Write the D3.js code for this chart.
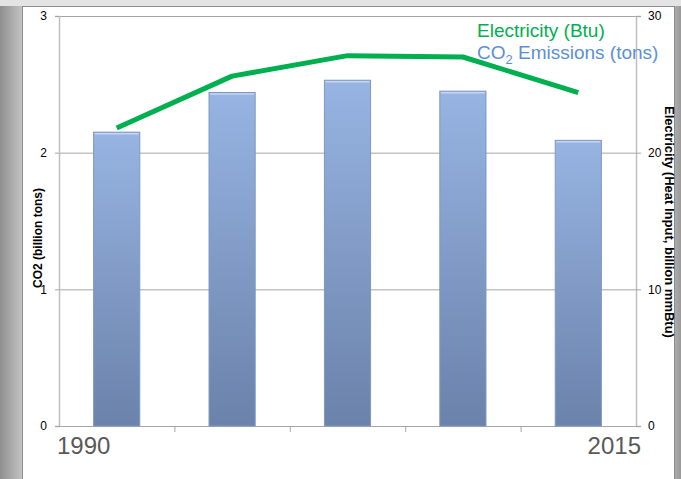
<!DOCTYPE html>
<html>
<head>
<meta charset="utf-8">
<script src="https://cdn.jsdelivr.net/npm/d3@7"></script>
<style>
  body { margin: 0; background: #e9e9e9; }
  svg { display: block; font-family: "Liberation Sans", Arial, sans-serif; }
</style>
</head>
<body>
<svg id="chart"></svg>
<script>
const years = ["1990", "1995", "2000", "2005", "2010"];
const co2 = [2.15, 2.44, 2.53, 2.45, 2.09];          // billion tons
const electricity = [21.8, 25.6, 27.1, 27.0, 24.4];  // billion mmBtu
const leftTicks = [0, 1, 2, 3];
const rightTicks = [0, 10, 20, 30];
const endLabels = ["1990", "2015"];

const W = 681, H = 479;
const margin = { top: 16, right: 45, bottom: 53, left: 59 };
const innerW = W - margin.left - margin.right;
const innerH = H - margin.top - margin.bottom;

const svg = d3.select("#chart").attr("width", W).attr("height", H);
const defs = svg.append("defs");

// slide-like background
const bg = defs.append("linearGradient").attr("id", "bgGrad");
bg.append("stop").attr("offset", "0%").attr("stop-color", "#8f8f8f");
bg.append("stop").attr("offset", "3.3%").attr("stop-color", "#c4c4c4");
bg.append("stop").attr("offset", "96%").attr("stop-color", "#e6e6e6");
bg.append("stop").attr("offset", "100%").attr("stop-color", "#9a9a9a");
svg.append("rect").attr("width", W).attr("height", H).attr("fill", "url(#bgGrad)");
svg.append("rect").attr("x", 0).attr("y", 0).attr("width", W).attr("height", 6).attr("fill", "#e4e4e4");
svg.append("rect")
    .attr("x", 22.5).attr("y", 6.5).attr("width", 652).attr("height", 480)
    .attr("fill", "#fff").attr("stroke", "#8c8c8c");

const barGrad = defs.append("linearGradient").attr("id", "barGrad")
    .attr("x1", 0).attr("y1", 0).attr("x2", 0).attr("y2", 1);
barGrad.append("stop").attr("offset", "0%").attr("stop-color", "#97b4e2");
barGrad.append("stop").attr("offset", "100%").attr("stop-color", "#6b82aa");

const g = svg.append("g").attr("transform", `translate(${margin.left},${margin.top})`);

const x = d3.scaleBand().domain(years).range([0, innerW]).paddingInner(0.6).paddingOuter(0.3);
const xb = d3.scaleBand().domain(years).range([0, innerW]);
const yL = d3.scaleLinear().domain([0, 3]).range([innerH, 0]);
const yR = d3.scaleLinear().domain([0, 30]).range([innerH, 0]);

// gridlines
g.selectAll(".grid").data(leftTicks).enter().append("line")
    .attr("x1", 0).attr("x2", innerW)
    .attr("y1", d => yL(d) + 0.5).attr("y2", d => yL(d) + 0.5)
    .attr("stroke", "#a6a6a6").attr("stroke-width", 1);

// left axis
const leftAxis = g.append("g")
    .call(d3.axisLeft(yL).tickValues(leftTicks).tickFormat(d3.format("d")).tickSize(4).tickPadding(8));
leftAxis.select(".domain").attr("stroke", "#bfbfbf").attr("stroke-width", 1.5);
leftAxis.selectAll(".tick line").attr("stroke", "#a6a6a6");
leftAxis.selectAll("text").attr("font-size", 12).attr("fill", "#000");

// right axis
const rightAxis = g.append("g").attr("transform", `translate(${innerW},0)`)
    .call(d3.axisRight(yR).tickValues(rightTicks).tickSize(5).tickPadding(7));
rightAxis.select(".domain").attr("stroke", "#bfbfbf").attr("stroke-width", 1.5);
rightAxis.selectAll(".tick line").attr("stroke", "#a6a6a6");
rightAxis.selectAll("text").attr("font-size", 12).attr("fill", "#000");

// bottom axis ticks at band boundaries
const bottom = g.append("g").attr("transform", `translate(0,${innerH})`);
bottom.append("line").attr("x1", 0).attr("x2", innerW).attr("y1", 0.5).attr("y2", 0.5)
    .attr("stroke", "#a6a6a6");
bottom.selectAll(".bt").data(years.slice(1)).enter().append("line")
    .attr("x1", d => xb(d) + 0.5).attr("x2", d => xb(d) + 0.5)
    .attr("y1", 0).attr("y2", 6).attr("stroke", "#a6a6a6");

// bars
g.selectAll(".bar").data(co2).enter().append("rect")
    .attr("x", (d, i) => x(years[i]))
    .attr("y", d => yL(d))
    .attr("width", x.bandwidth())
    .attr("height", d => innerH - yL(d))
    .attr("fill", "url(#barGrad)")
    .attr("stroke", "#7f97c4").attr("stroke-width", 1);
g.selectAll(".bartop").data(co2).enter().append("line")
    .attr("x1", (d, i) => x(years[i]) + 1).attr("x2", (d, i) => x(years[i]) + x.bandwidth() - 1)
    .attr("y1", d => yL(d) + 1.5).attr("y2", d => yL(d) + 1.5)
    .attr("stroke", "#c6d6f0").attr("stroke-width", 1.5);

// electricity line
const line = d3.line()
    .x((d, i) => xb(years[i]) + xb.bandwidth() / 2)
    .y(d => yR(d));
g.append("path").datum(electricity)
    .attr("d", line)
    .attr("fill", "none").attr("stroke", "#00b050").attr("stroke-width", 5)
    .attr("stroke-linejoin", "round");

// year end labels
svg.append("text").attr("x", 57).attr("y", 454)
    .attr("font-size", 24).attr("fill", "#595959").text(endLabels[0]);
svg.append("text").attr("x", 641).attr("y", 454).attr("text-anchor", "end")
    .attr("font-size", 24).attr("fill", "#595959").text(endLabels[1]);

// legend
svg.append("text").attr("x", 477).attr("y", 37)
    .attr("font-size", 19).attr("fill", "#00b050").text("Electricity (Btu)");
const co2Label = svg.append("text").attr("x", 477).attr("y", 59)
    .attr("font-size", 19).attr("fill", "#5b8fd9");
co2Label.append("tspan").text("CO");
co2Label.append("tspan").attr("font-size", 13).attr("dy", 5).text("2");
co2Label.append("tspan").attr("dy", -5).text(" Emissions (tons)");

// axis titles
svg.append("text")
    .attr("transform", `translate(42,238) rotate(-90)`)
    .attr("text-anchor", "middle").attr("font-size", 12).attr("font-weight", "bold")
    .text("CO2 (billion tons)");
svg.append("text")
    .attr("transform", `translate(665,222) rotate(90)`)
    .attr("text-anchor", "middle").attr("font-size", 13).attr("font-weight", "bold")
    .text("Electricity (Heat Input, billion mmBtu)");
</script>
</body>
</html>
